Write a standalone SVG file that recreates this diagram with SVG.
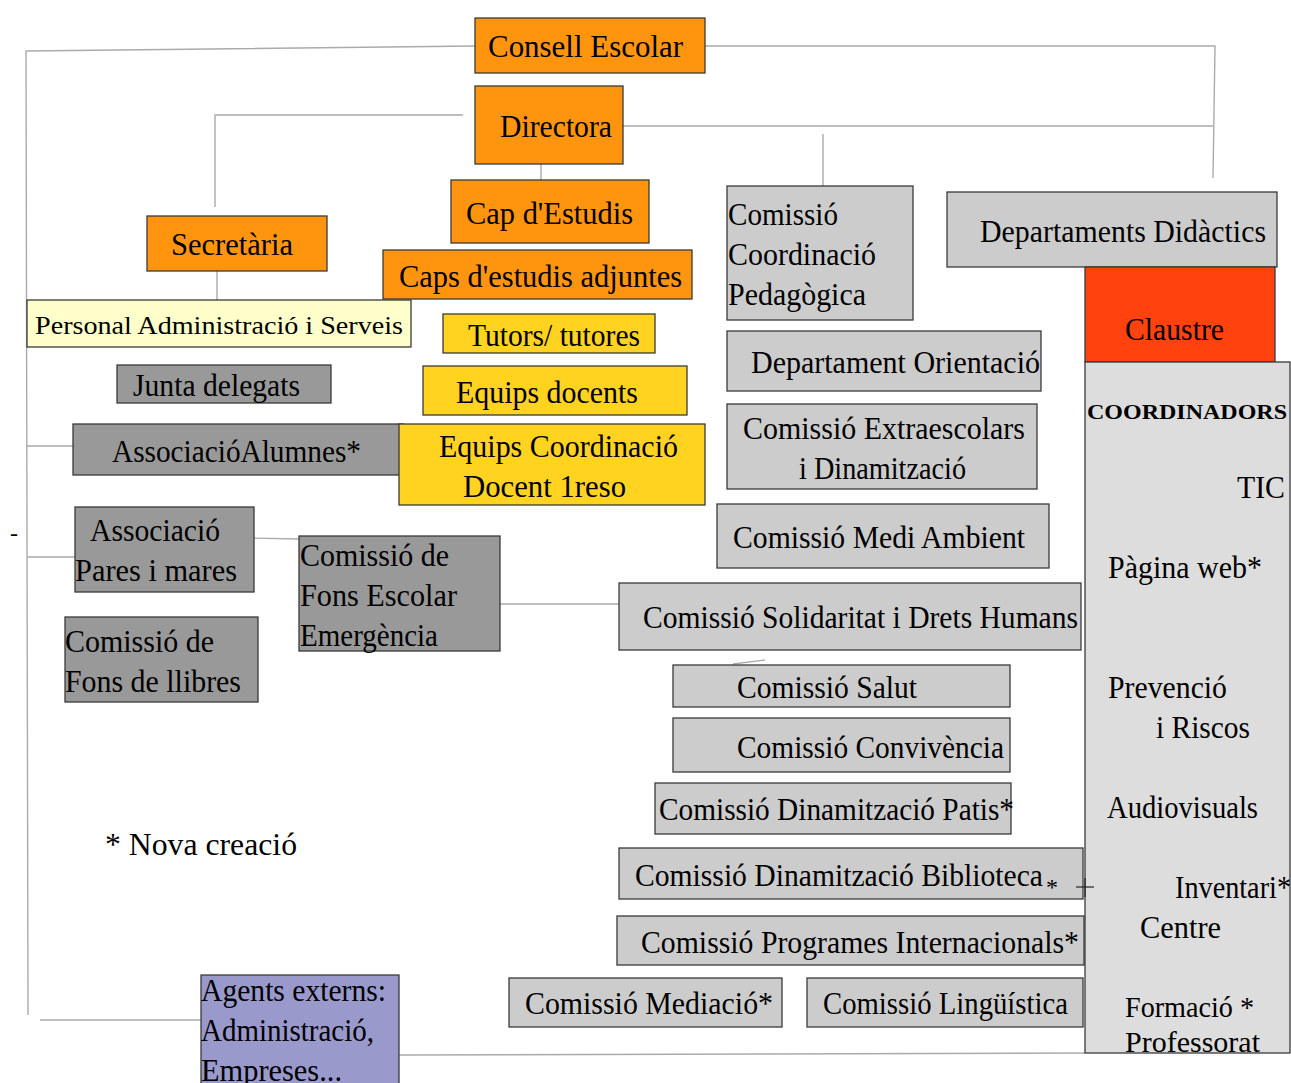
<svg xmlns="http://www.w3.org/2000/svg" width="1291" height="1083" viewBox="0 0 1291 1083">
<style>
.b{stroke:#3a3a3a;stroke-width:1.3}
.or{fill:#ff950e}.ye{fill:#ffd320}.lg{fill:#cccccc}.dg{fill:#999999}.cr{fill:#ffffcc}.rd{fill:#ff420e}.pu{fill:#9999cc}.col{fill:#dddddd}
text{font-family:"Liberation Serif","Times New Roman",serif;font-size:32px;fill:#000}
.sm{font-size:26px}
.md{font-size:29px}
.bd{font-size:22px;font-weight:bold}
.c line,.c polyline{stroke:#aaaaaa;stroke-width:1.4;fill:none}
</style>
<rect width="1291" height="1083" fill="#ffffff"/>
<g class="c" id="connectors">
<polyline points="475,46 26,51 28,1015"/>
<line x1="40" y1="1020" x2="245" y2="1020"/>
<line x1="27" y1="446" x2="73" y2="446"/>
<line x1="27" y1="557" x2="75" y2="557"/>
<polyline points="705,46 1215,46 1213,178"/>
<polyline points="463,115 215,115 215,207"/>
<line x1="623" y1="126" x2="1213" y2="126"/>
<line x1="823" y1="134" x2="823" y2="186"/>
<line x1="541" y1="151" x2="541" y2="180"/>
<line x1="217" y1="271" x2="217" y2="300"/>
<line x1="248" y1="538" x2="299" y2="539"/>
<line x1="489" y1="604" x2="619" y2="604"/>
<line x1="399" y1="1055" x2="1085" y2="1053"/>
<line x1="733" y1="664" x2="765" y2="660"/>
</g>
<text x="10" y="541" style="font-size:24px">-</text>
<g id="consell"><rect class="b or" x="475" y="18" width="230" height="55"/><text x="488" y="57" textLength="195" lengthAdjust="spacingAndGlyphs">Consell  Escolar</text></g>
<g id="directora"><rect class="b or" x="475" y="86" width="148" height="78"/><text x="500" y="137" textLength="112" lengthAdjust="spacingAndGlyphs">Directora</text></g>
<g id="capestudis"><rect class="b or" x="451" y="180" width="198" height="63"/><text x="466" y="224" textLength="167" lengthAdjust="spacingAndGlyphs">Cap d'Estudis</text></g>
<g id="secretaria"><rect class="b or" x="147" y="216" width="180" height="55"/><text x="171" y="255" textLength="122" lengthAdjust="spacingAndGlyphs">Secretària</text></g>
<g id="capsadjuntes"><rect class="b or" x="383" y="250" width="309" height="49"/><text x="399" y="287" textLength="283" lengthAdjust="spacingAndGlyphs">Caps d'estudis adjuntes</text></g>
<g id="personal"><rect class="b cr" x="27" y="300" width="384" height="47"/><text class="sm" x="35" y="334" textLength="368" lengthAdjust="spacingAndGlyphs">Personal Administració i  Serveis</text></g>
<g id="tutors"><rect class="b ye" x="443" y="314" width="212" height="39"/><text x="468" y="346" textLength="172" lengthAdjust="spacingAndGlyphs">Tutors/ tutores</text></g>
<g id="junta"><rect class="b dg" x="117" y="365" width="214" height="38"/><text x="133" y="396" textLength="167" lengthAdjust="spacingAndGlyphs">Junta delegats</text></g>
<g id="equipsdocents"><rect class="b ye" x="423" y="366" width="264" height="49"/><text x="456" y="403" textLength="182" lengthAdjust="spacingAndGlyphs">Equips docents</text></g>
<g id="alumnes"><rect class="b dg" x="73" y="424" width="330" height="51"/><text x="112" y="462" textLength="249" lengthAdjust="spacingAndGlyphs">AssociacióAlumnes*</text></g>
<g id="equipscoord"><rect class="b ye" x="399" y="424" width="306" height="81"/><text x="439" y="457" textLength="239" lengthAdjust="spacingAndGlyphs">Equips Coordinació</text><text x="463" y="497" textLength="163" lengthAdjust="spacingAndGlyphs">Docent 1reso</text></g>
<g id="pares"><rect class="b dg" x="75" y="507" width="179" height="85"/><text x="90" y="541" textLength="130" lengthAdjust="spacingAndGlyphs">Associació</text><text x="75" y="581" textLength="162" lengthAdjust="spacingAndGlyphs">Pares i mares</text></g>
<g id="fonsescolar"><rect class="b dg" x="299" y="536" width="201" height="115"/><text x="300" y="566" textLength="149" lengthAdjust="spacingAndGlyphs">Comissió de</text><text x="300" y="606" textLength="157" lengthAdjust="spacingAndGlyphs">Fons Escolar</text><text x="300" y="646" textLength="138" lengthAdjust="spacingAndGlyphs">Emergència</text></g>
<g id="fonsllibres"><rect class="b dg" x="65" y="617" width="193" height="85"/><text x="65" y="652" textLength="149" lengthAdjust="spacingAndGlyphs">Comissió de</text><text x="65" y="692" textLength="176" lengthAdjust="spacingAndGlyphs">Fons de llibres</text></g>
<g id="ccp"><rect class="b lg" x="727" y="186" width="186" height="134"/><text x="728" y="225" textLength="110" lengthAdjust="spacingAndGlyphs">Comissió</text><text x="728" y="265" textLength="148" lengthAdjust="spacingAndGlyphs">Coordinació</text><text x="728" y="305" textLength="138" lengthAdjust="spacingAndGlyphs">Pedagògica</text></g>
<g id="departaments"><rect class="b lg" x="947" y="192" width="330" height="75"/><text x="980" y="242" textLength="286" lengthAdjust="spacingAndGlyphs">Departaments Didàctics</text></g>
<g id="claustre"><rect class="b rd" x="1085" y="267" width="190" height="95"/><text x="1125" y="340" textLength="99" lengthAdjust="spacingAndGlyphs">Claustre</text></g>
<g id="coordinadors"><rect class="b col" x="1085" y="362" width="205" height="691"/>
<text class="bd" x="1087" y="419" textLength="200" lengthAdjust="spacingAndGlyphs">COORDINADORS</text>
<text x="1237" y="498" textLength="48" lengthAdjust="spacingAndGlyphs">TIC</text>
<text x="1108" y="578" textLength="154" lengthAdjust="spacingAndGlyphs">Pàgina web*</text>
<text x="1108" y="698" textLength="119" lengthAdjust="spacingAndGlyphs">Prevenció</text>
<text x="1156" y="738" textLength="94" lengthAdjust="spacingAndGlyphs">i Riscos</text>
<text x="1107" y="818" textLength="151" lengthAdjust="spacingAndGlyphs">Audiovisuals</text>
<text x="1175" y="898" textLength="116" lengthAdjust="spacingAndGlyphs">Inventari*</text>
<text x="1140" y="938" textLength="81" lengthAdjust="spacingAndGlyphs">Centre</text>
<text class="md" x="1125" y="1017" textLength="129" lengthAdjust="spacingAndGlyphs">Formació *</text>
<text class="md" x="1125" y="1052" textLength="135" lengthAdjust="spacingAndGlyphs">Professorat</text>
</g>
<g id="orientacio"><rect class="b lg" x="727" y="331" width="314" height="60"/><text x="751" y="373" textLength="289" lengthAdjust="spacingAndGlyphs">Departament Orientació</text></g>
<g id="extraescolars"><rect class="b lg" x="727" y="404" width="310" height="85"/><text x="743" y="439" textLength="282" lengthAdjust="spacingAndGlyphs">Comissió Extraescolars</text><text x="799" y="479" textLength="167" lengthAdjust="spacingAndGlyphs">i Dinamització</text></g>
<g id="mediambient"><rect class="b lg" x="717" y="504" width="332" height="64"/><text x="733" y="548" textLength="292" lengthAdjust="spacingAndGlyphs">Comissió Medi Ambient</text></g>
<g id="solidaritat"><rect class="b lg" x="619" y="583" width="462" height="67"/><text x="643" y="628" textLength="435" lengthAdjust="spacingAndGlyphs">Comissió Solidaritat i Drets Humans</text></g>
<g id="salut"><rect class="b lg" x="673" y="665" width="337" height="42"/><text x="737" y="698" textLength="180" lengthAdjust="spacingAndGlyphs">Comissió Salut</text></g>
<g id="convivencia"><rect class="b lg" x="673" y="718" width="337" height="54"/><text x="737" y="758" textLength="267" lengthAdjust="spacingAndGlyphs">Comissió Convivència</text></g>
<g id="patis"><rect class="b lg" x="655" y="783" width="356" height="51"/><text x="659" y="820" textLength="355" lengthAdjust="spacingAndGlyphs">Comissió Dinamització Patis*</text></g>
<g id="biblioteca"><rect class="b lg" x="619" y="848" width="464" height="51"/><text x="635" y="886" textLength="408" lengthAdjust="spacingAndGlyphs">Comissió Dinamització  Biblioteca</text><text x="1046" y="895" style="font-size:24px">*</text></g>
<g id="cross" stroke="#222222" stroke-width="1.2"><line x1="1076" y1="887" x2="1094" y2="887"/><line x1="1085" y1="878" x2="1085" y2="897"/></g>
<g id="internacionals"><rect class="b lg" x="617" y="916" width="467" height="49"/><text x="641" y="953" textLength="438" lengthAdjust="spacingAndGlyphs">Comissió Programes Internacionals*</text></g>
<g id="mediacio"><rect class="b lg" x="509" y="978" width="273" height="49"/><text x="525" y="1014" textLength="248" lengthAdjust="spacingAndGlyphs">Comissió Mediació*</text></g>
<g id="linguistica"><rect class="b lg" x="807" y="978" width="276" height="49"/><text x="823" y="1014" textLength="245" lengthAdjust="spacingAndGlyphs">Comissió Lingüística</text></g>
<g id="agents"><rect class="b pu" x="201" y="975" width="198" height="110"/><text x="201" y="1001" textLength="185" lengthAdjust="spacingAndGlyphs">Agents externs:</text><text x="201" y="1041" textLength="173" lengthAdjust="spacingAndGlyphs">Administració,</text><text x="201" y="1081" textLength="141" lengthAdjust="spacingAndGlyphs">Empreses...</text></g>
<text x="105" y="855" textLength="192" lengthAdjust="spacingAndGlyphs">* Nova creació</text>
</svg>
